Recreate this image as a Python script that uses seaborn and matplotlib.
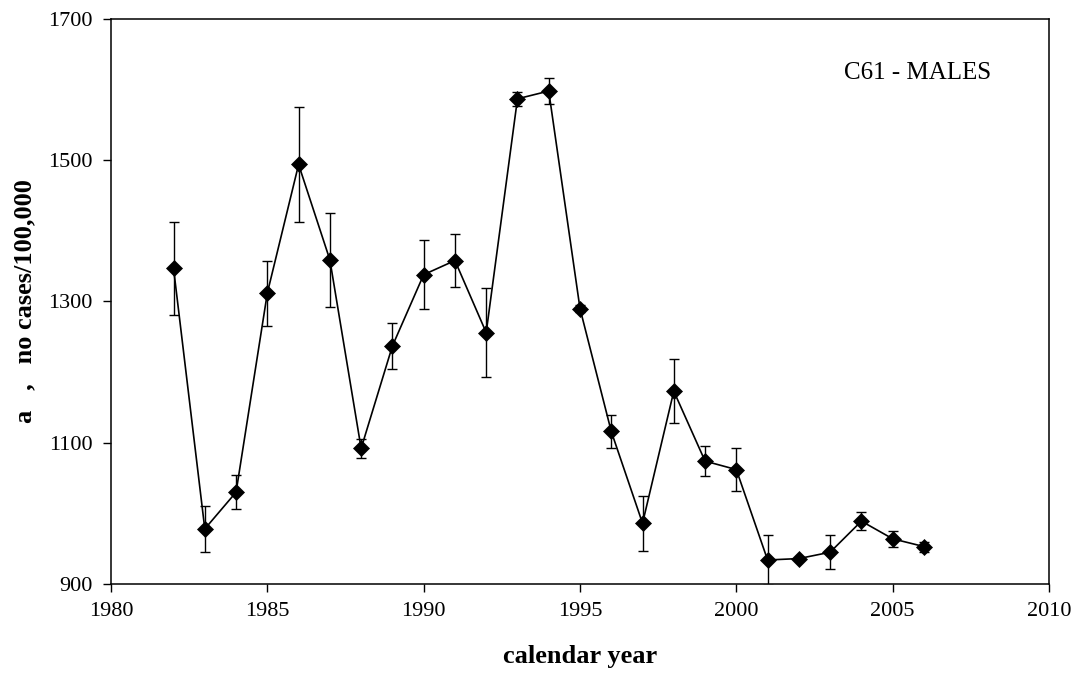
import matplotlib
matplotlib.use("Agg")
import matplotlib.pyplot as plt
import seaborn as sns
import pandas as pd

# Annual incidence, C61 males, with standard-error bars
years = [1982, 1983, 1984, 1985, 1986, 1987, 1988, 1989, 1990, 1991, 1992,
         1993, 1994, 1995, 1996, 1997, 1998, 1999, 2000, 2001, 2002, 2003,
         2004, 2005, 2006]
rate = [1347, 978, 1030, 1312, 1494, 1359, 1092, 1237, 1338, 1358, 1256,
        1587, 1598, 1290, 1116, 986, 1173, 1074, 1062, 934, 936, 945,
        989, 964, 953]
err = [66, 33, 24, 46, 81, 67, 13, 32, 49, 38, 63,
       10, 19, 5, 23, 39, 45, 21, 31, 36, 0, 24,
       13, 11, 7]
x_ticks = [1980, 1985, 1990, 1995, 2000, 2005, 2010]
y_ticks = [900, 1100, 1300, 1500, 1700]

df = pd.DataFrame({"year": years, "rate": rate, "err": err})

sns.set_theme(style="ticks")
plt.rcParams["font.family"] = ["Liberation Serif", "DejaVu Serif"]
plt.rcParams["text.color"] = "black"
plt.rcParams["axes.labelcolor"] = "black"

fig = plt.figure(figsize=(10.81, 6.8), dpi=100)
ax = fig.add_axes([111 / 1081, (680 - 584) / 680, (1049 - 111) / 1081, (584 - 19) / 680])

ax.errorbar(df["year"], df["rate"], yerr=df["err"], fmt="none",
            ecolor="black", elinewidth=1.0, capsize=3.3, capthick=1.0, zorder=2)
sns.lineplot(data=df, x="year", y="rate", ax=ax, color="black", linewidth=1.2,
             marker="D", markersize=8.6, markerfacecolor="black",
             markeredgecolor="black", markeredgewidth=0.5, zorder=3)

ax.set_xlim(1980, 2010)
ax.set_ylim(900, 1700)
ax.set_xticks(x_ticks)
ax.set_yticks(y_ticks)
ax.tick_params(axis="both", direction="out", length=6, width=1, colors="black",
               labelcolor="black", labelsize=16, pad=7)
for s in ax.spines.values():
    s.set_visible(True)
    s.set_color("black")
    s.set_linewidth(1.1)

ax.set_xlabel("calendar year", fontsize=19, fontweight="bold", labelpad=17,
              color="black")
ax.set_ylabel("a   ,   no cases/100,000", fontsize=19, fontweight="bold",
              labelpad=9, color="black")
ax.text(0.938, 0.905, "C61 - MALES", transform=ax.transAxes, ha="right",
        va="center", fontsize=18, color="black")

fig.savefig("out.png", dpi=100)
